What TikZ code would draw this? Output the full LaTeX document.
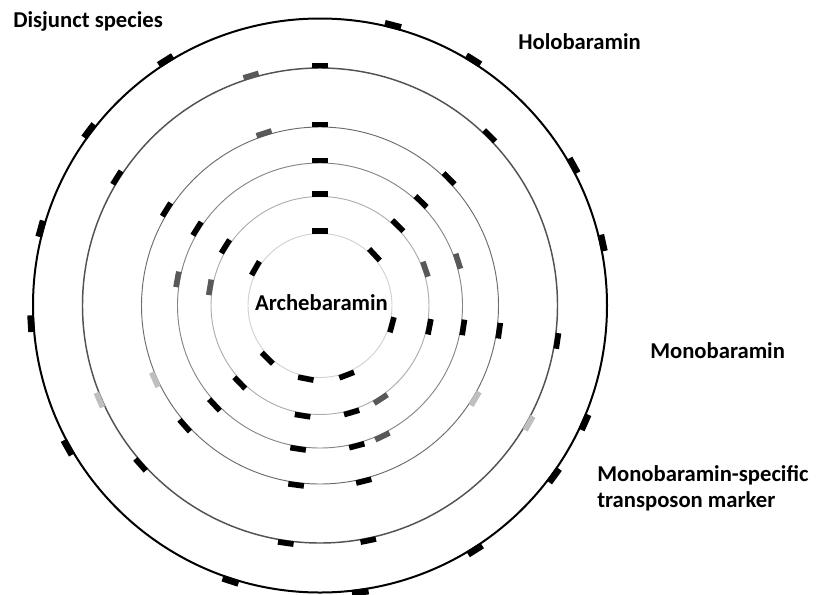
\documentclass[tikz,border=0pt]{standalone}
\usepackage{fontspec}
\setmainfont{Carlito}
\usepackage{tikz}
\usetikzlibrary{positioning}
\definecolor{markdark}{RGB}{89,89,89}
\definecolor{marklight}{RGB}{191,191,191}

\begin{document}
\begin{tikzpicture}[
    x=0.75pt, y=0.75pt,
    ring/.style={line width=0.7pt},
    tick/.style={rectangle, inner sep=0pt, minimum width=4.2pt, minimum height=11.8pt},
    bigtick/.style={tick, minimum width=5pt, minimum height=12.5pt},
    lbl/.style={font=\fontsize{17}{19.5}\selectfont\bfseries, inner sep=0pt}
]
\useasboundingbox (0,0) rectangle (825,-594);

\begin{scope}[shift={(320,-305.5)}]
\draw[ring, black!18] (0,0) circle (72);
\draw[ring, black!32] (0,0) circle (109);
\draw[ring, black!48] (0,0) circle (142.5);
\draw[ring, black!58] (0,0) circle (178.5);
\draw[ring, black!68, line width=1.1pt] (0,0) circle (237.5);
\draw[ring, black, line width=1.5pt] (0,0) circle (287);

\foreach \a/\c [count=\i] in {90/black,150/black,43/black,-15/black,-69/black,-101/black,-135/black}
  \node[tick, fill=\c, rotate=\a] (ma-\i) at (\a:74.5) {};

\foreach \a/\c [count=\i] in {90/black,148/black,45.7/black,-11/black,-73.5/black,-99/black,-136/black,170.6/markdark,19/markdark,-57/markdark}
  \node[tick, fill=\c, rotate=\a] (mb-\i) at (\a:111.5) {};

\foreach \a/\c [count=\i] in {90/black,148/black,45.8/black,-8.7/black,-75.3/black,-98.7/black,-136.7/black,169.6/markdark,17.8/markdark,-64.5/markdark}
  \node[tick, fill=\c, rotate=\a] (mc-\i) at (\a:145) {};

\foreach \a/\c [count=\i] in {90/black,148/black,44.5/black,-8/black,-76/black,-97.6/black,-138.4/black,108/markdark,-31/marklight,-155.8/marklight}
  \node[tick, fill=\c, rotate=\a] (md-\i) at (\a:181) {};

\foreach \a/\c [count=\i] in {90/black,147.8/black,45/black,-8.5/black,-78.4/black,-98.2/black,-138.4/black,106.7/markdark,-29.4/marklight,-156.8/marklight}
  \node[tick, fill=\c, rotate=\a] (me-\i) at (\a:240) {};

\foreach \a [count=\i] in {75.4,58,28.9,12.5,-23.8,-36,-57.6,-82,-108,-150.6,-176.4,164.6,142.9,122.2}
  \node[bigtick, fill=black, rotate=\a] (mf-\i) at (\a:289.5) {};
\end{scope}

\node[lbl, anchor=west] (disjunct) at (13,-21) {Disjunct species};
\node[lbl, anchor=west] (holo) at (518,-42) {Holobaramin};
\node[lbl] (arche) at (321.5,-303) {Archebaramin};
\node[lbl, anchor=west] (mono) at (650,-351) {Monobaramin};
\node[lbl, anchor=west, align=left] (marker) at (597,-488) {Monobaramin-specific\\transposon marker};
\end{tikzpicture}
\end{document}
